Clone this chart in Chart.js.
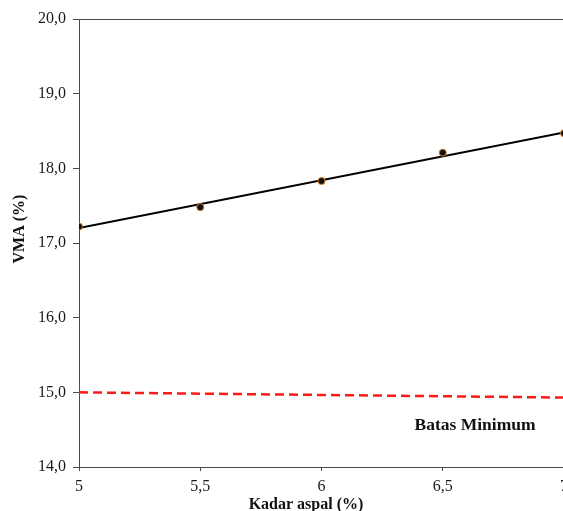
<!DOCTYPE html>
<html>
<head>
<meta charset="utf-8">
<script src="https://cdn.jsdelivr.net/npm/chart.js@4"></script>
<style>
  html, body { margin: 0; padding: 0; background: #fff; overflow: hidden; }
  #wrap { width: 580px; height: 511px; position: relative; }
</style>
</head>
<body>
<div id="wrap"><canvas id="vmaChart"></canvas></div>
<script>
// DATA
const kadarAspal = [5, 5.5, 6, 6.5, 7];
const vma = [17.22, 17.48, 17.83, 18.21, 18.47];
const trendX = [5, 7];
const trendY = [17.2, 18.48];
const batasX = [5, 7];
const batasY = [15.0, 14.93];

const serif = "'Liberation Serif', 'Times New Roman', serif";
const axisColor = '#4a4a4a';

const toPoints = (xs, ys) => xs.map((x, i) => ({ x: x, y: ys[i] }));
const comma = (v, d) => v.toFixed(d).replace('.', ',');

// extra text: axis titles + label
const textPlugin = {
  id: 'textPlugin',
  afterDraw(chart) {
    const ctx = chart.ctx;
    ctx.save();
    ctx.fillStyle = '#111';
    ctx.font = 'bold 16px ' + serif;
    ctx.textAlign = 'center';
    ctx.textBaseline = 'alphabetic';
    ctx.fillText('Kadar aspal (%)', 306, 509);

    ctx.save();
    ctx.translate(24, 229);
    ctx.rotate(-Math.PI / 2);
    ctx.fillText('VMA (%)', 0, 0);
    ctx.restore();

    ctx.font = 'bold 17.5px ' + serif;
    ctx.fillText('Batas Minimum', 475, 430);

    // top border of plot area
    const a = chart.chartArea;
    ctx.strokeStyle = axisColor;
    ctx.lineWidth = 1;
    ctx.beginPath();
    ctx.moveTo(a.left, a.top + 0.5);
    ctx.lineTo(a.right, a.top + 0.5);
    ctx.stroke();
    ctx.restore();
  }
};

const ctx = document.getElementById('vmaChart').getContext('2d');
new Chart(ctx, {
  type: 'scatter',
  data: {
    datasets: [
      {
        label: 'VMA',
        data: toPoints(kadarAspal, vma),
        backgroundColor: '#111',
        borderColor: '#d07a20',
        borderWidth: 1,
        pointRadius: 3.5,
        showLine: false,
        order: 1
      },
      {
        label: 'Trend',
        data: toPoints(trendX, trendY),
        showLine: true,
        borderColor: '#000',
        borderWidth: 2,
        pointRadius: 0,
        order: 2
      },
      {
        label: 'Batas Minimum',
        data: toPoints(batasX, batasY),
        showLine: true,
        borderColor: '#ff1a1a',
        borderWidth: 2.5,
        borderDash: [9, 5],
        pointRadius: 0,
        order: 3
      }
    ]
  },
  options: {
    responsive: true,
    maintainAspectRatio: false,
    animation: false,
    layout: { padding: { top: 19, right: 16, left: 0, bottom: 0 } },
    plugins: {
      legend: { display: false },
      tooltip: { enabled: false }
    },
    scales: {
      x: {
        type: 'linear',
        min: 5,
        max: 7,
        afterFit: (s) => { s.height = 44; },
        border: { color: axisColor, width: 1 },
        grid: { drawOnChartArea: false, drawTicks: true, tickLength: 4, color: axisColor },
        ticks: {
          stepSize: 0.5,
          padding: 6,
          color: '#1a1a1a',
          font: { family: serif, size: 16 },
          callback: (v) => (Number.isInteger(v) ? String(v) : comma(v, 1))
        }
      },
      y: {
        min: 14,
        max: 20,
        afterFit: (s) => { s.width = 79; },
        border: { color: axisColor, width: 1 },
        grid: { drawOnChartArea: false, drawTicks: true, tickLength: 6, color: axisColor },
        ticks: {
          stepSize: 1,
          padding: 7,
          color: '#1a1a1a',
          font: { family: serif, size: 16 },
          callback: (v) => comma(v, 1)
        }
      }
    }
  },
  plugins: [textPlugin]
});
</script>
</body>
</html>
